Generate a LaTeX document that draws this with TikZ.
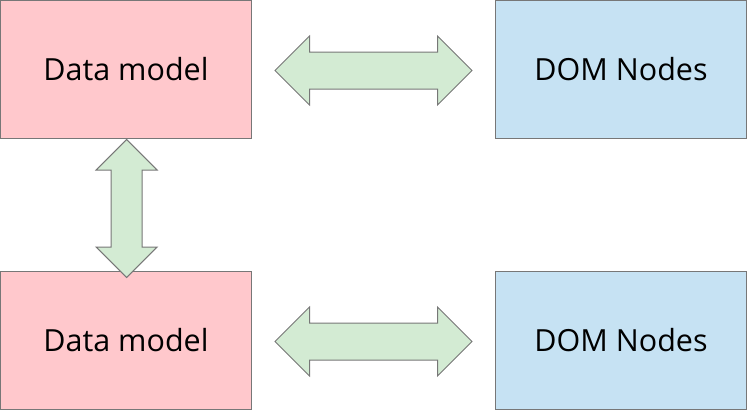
\documentclass[tikz,border=0pt]{standalone}
\usepackage{fontspec}
\setmainfont{Open Sans}
\usetikzlibrary{positioning}
\usetikzlibrary{calc}
\usetikzlibrary{shapes.arrows}
\definecolor{modelpink}{HTML}{FFC8CC}
\definecolor{domblue}{HTML}{C6E2F3}
\definecolor{linkgreen}{HTML}{D3EBD3}
\definecolor{edgegray}{HTML}{777777}
\begin{document}
\begin{tikzpicture}[x=1pt,y=1pt,
  box/.style={draw=edgegray,line width=1pt,minimum width=251pt,minimum height=138pt,inner sep=0pt,font=\fontsize{30.5}{36}\selectfont},
  model/.style={box,fill=modelpink},
  dom/.style={box,fill=domblue},
  link/.style={draw=edgegray,line width=1pt,fill=linkgreen,double arrow,inner xsep=0pt,double arrow tip angle=90}]
  \useasboundingbox (0,0) rectangle (747,-410);

  \node[model] (dm1) at (126,-69) {Data model};
  \node[dom,right=243pt of dm1] (dn1) {DOM Nodes};
  \node[model,below=132pt of dm1] (dm2) {Data model};
  \node[dom,right=243pt of dm2] (dn2) {DOM Nodes};

  % links between the boxes
  \node[link,minimum height=197pt,inner ysep=18pt,double arrow head extend=16pt] (l1) at ($(dm1.east)!0.5!(dn1.west)+(0,-1.5)$) {};
  \node[link,minimum height=197pt,inner ysep=18pt,double arrow head extend=16pt] (l2) at ($(dm2.east)!0.5!(dn2.west)+(0,-1.5)$) {};
  \node[link,rotate=90,minimum height=138pt,inner ysep=15pt,double arrow head extend=15pt] (l3) at ($(dm1.south)+(0.7,-70)$) {};
\end{tikzpicture}
\end{document}
